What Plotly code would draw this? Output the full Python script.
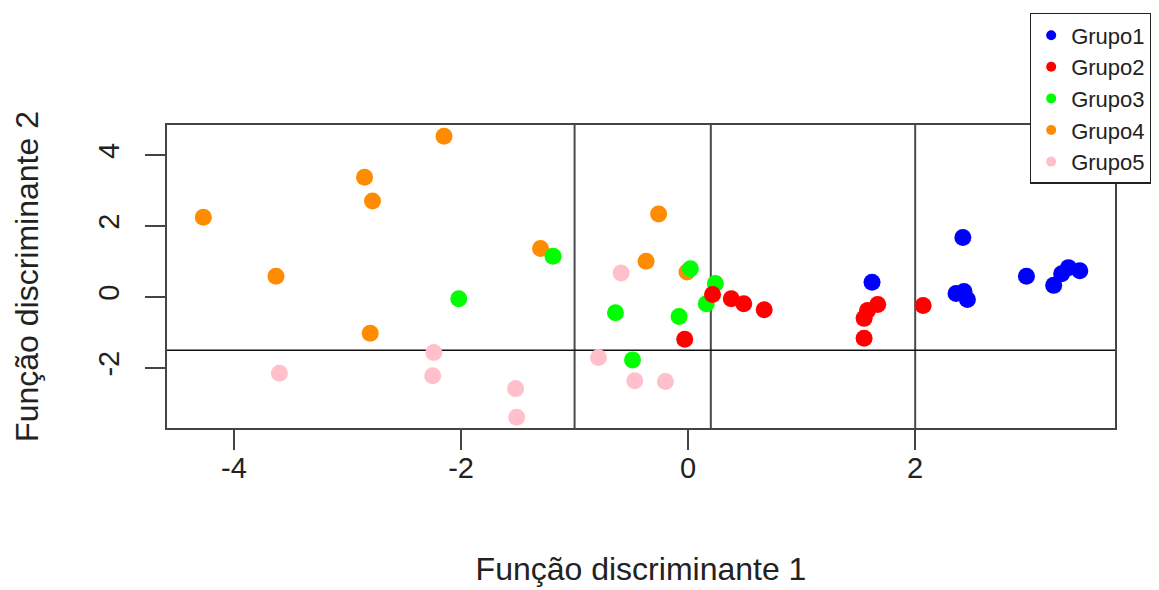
import plotly.graph_objects as go

groups = ["Grupo1", "Grupo2", "Grupo3", "Grupo4", "Grupo5"]
colors = ["#0000FF", "#FF0000", "#00FF00", "#FF8C00", "#FFC0CB"]

g1_x = [1.62, 2.42, 2.36, 2.43, 2.46, 2.98, 3.22, 3.29, 3.35, 3.45]
g1_y = [0.42, 1.68, 0.10, 0.16, -0.07, 0.59, 0.33, 0.66, 0.83, 0.74]

g2_x = [0.215, 0.38, 0.49, 0.67, -0.03, 1.67, 1.58, 1.55, 1.55, 2.07]
g2_y = [0.07, -0.05, -0.19, -0.36, -1.19, -0.21, -0.38, -0.60, -1.16, -0.24]

g3_x = [-1.19, -2.02, 0.02, 0.24, 0.16, -0.64, -0.08, -0.49]
g3_y = [1.15, -0.05, 0.80, 0.38, -0.19, -0.44, -0.55, -1.77]

g4_x = [-4.27, -2.15, -2.85, -2.78, -3.63, -1.30, -2.80, -0.26, -0.37, -0.01]
g4_y = [2.25, 4.53, 3.38, 2.71, 0.59, 1.37, -1.02, 2.34, 1.01, 0.71]

g5_x = [-3.60, -2.24, -2.25, -1.52, -1.51, -0.79, -0.59, -0.47, -0.20]
g5_y = [-2.15, -1.56, -2.22, -2.58, -3.39, -1.70, 0.68, -2.36, -2.38]

vlines = [-1.0, 0.2, 2.0]
hlines = [-1.5]

x_ticks = [-4, -2, 0, 2]
x_ticktext = ["-4", "-2", "0", "2"]
y_ticks = [-2, 0, 2, 4]
y_ticktext = ["-2", "0", "2", "4"]

series = [(g1_x, g1_y), (g2_x, g2_y), (g3_x, g3_y), (g4_x, g4_y), (g5_x, g5_y)]
draw_order = [3, 4, 2, 1, 0]

fig = go.Figure()
for i in draw_order:
    xs, ys = series[i]
    fig.add_trace(go.Scatter(x=xs, y=ys, mode="markers", name=groups[i],
                             marker=dict(color=colors[i], size=17, line=dict(width=0)),
                             showlegend=False))
for i in range(5):
    fig.add_trace(go.Scatter(x=[None], y=[None], mode="markers", name=groups[i],
                             marker=dict(color=colors[i], size=10), showlegend=True))

for v in vlines:
    fig.add_shape(type="line", x0=v, x1=v, xref="x", y0=0, y1=1, yref="paper",
                  line=dict(color="#4a4a4a", width=2), layer="below")
for h in hlines:
    fig.add_shape(type="line", y0=h, y1=h, yref="y", x0=0, x1=1, xref="paper",
                  line=dict(color="#111111", width=1.5), layer="below")

font_family = "Liberation Sans, Arial, sans-serif"
# page body adds an 8px offset; margins compensate so the plot box lands at 167..1115 x 125..428
fig.update_layout(
    width=1159, height=590,
    margin=dict(l=159, r=52, t=117, b=170, autoexpand=False),
    paper_bgcolor="white", plot_bgcolor="white",
    font=dict(family=font_family, color="#222222"),
    xaxis=dict(range=[-4.59, 3.76], tickvals=x_ticks, ticktext=x_ticktext,
               ticks="outside", ticklen=20,
               tickwidth=1.5, tickcolor="#444444", showgrid=False, zeroline=False,
               showline=True, mirror=True, linecolor="#444444", linewidth=2,
               tickfont=dict(size=29, color="#222222"), ticklabelstandoff=-7,
               title=dict(text="Função discriminante 1", font=dict(size=32, color="#222222"),
                          standoff=75)),
    yaxis=dict(range=[-3.69, 4.85], tickvals=y_ticks, ticktext=y_ticktext,
               ticks="outside", ticklen=20,
               tickwidth=1.5, tickcolor="#444444", showgrid=False, zeroline=False,
               showline=True, mirror=True, linecolor="#444444", linewidth=2,
               tickangle=-90,
               tickfont=dict(size=29, color="#222222"), ticklabelstandoff=14,
               title=dict(text="Função discriminante 2", font=dict(size=32, color="#222222"),
                          standoff=45)),
    legend=dict(x=0.910, y=1.37, xanchor="left", yanchor="top",
                bordercolor="#222222", borderwidth=1.5, bgcolor="white",
                font=dict(size=22, color="#222222"), itemwidth=30,
                tracegroupgap=0),
)

fig.write_html("out.html")
